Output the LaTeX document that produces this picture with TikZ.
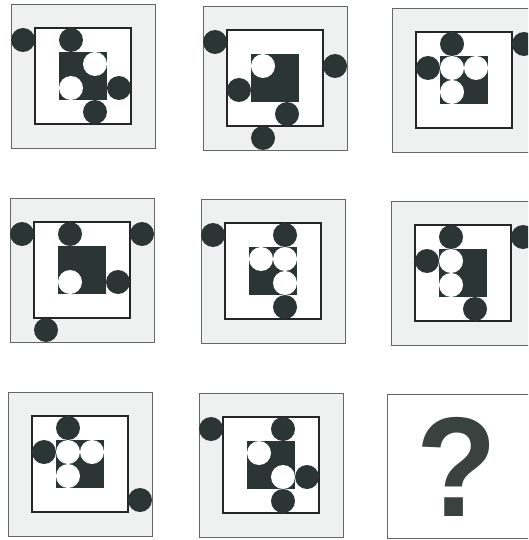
\documentclass[tikz,border=0pt]{standalone}
\usepackage{fontspec}
\newfontfamily\qfont{Liberation Sans}
\definecolor{dk}{HTML}{2B3634}
\definecolor{pale}{HTML}{EFF0F0}
\definecolor{qcol}{HTML}{3A4240}
\tikzset{
  outerbox/.style={fill=pale,draw=black!60,line width=0.7pt},
  innerbox/.style={fill=white,draw=black!85,line width=1.2pt},
  corebox/.style={fill=dk},
  dkdot/.style={fill=dk},
  wtdot/.style={fill=white},
}
\newcommand\puzzlecell[4]{%
  \begin{scope}[shift={(#1,#2)}]
    \path[outerbox] (0,0) rectangle (144,144);
    \path[innerbox] (24,24) rectangle (120,120);
    \path[corebox] (48,48) rectangle (96,96);
    \foreach \a/\b in {#3} \path[dkdot] (\a*24,\b*24) circle (12pt);
    \foreach \a/\b in {#4} \path[wtdot] (\a*24,\b*24) circle (12pt);
  \end{scope}}
\begin{document}
\begin{tikzpicture}[x=1pt,y=-1pt]
\useasboundingbox (0,0) rectangle (528,540);
\begin{scope}
\clip (0,0) rectangle (528,540);
\fill[white] (0,0) rectangle (528,540);
\puzzlecell{11}{4}{0.5/1.5,2.5/1.5,4.5/3.5,3.5/4.5}{3.5/2.5,2.5/3.5}
\puzzlecell{203}{6}{0.5/1.5,1.5/3.5,5.5/2.5,3.5/4.5,2.5/5.5}{2.5/2.5}
\puzzlecell{392}{8}{2.5/1.5,1.5/2.5,5.5/1.5}{2.5/2.5,3.5/2.5,2.5/3.5}
\puzzlecell{10}{198}{0.5/1.5,2.5/1.5,5.5/1.5,4.5/3.5,1.5/5.5}{2.5/3.5}
\puzzlecell{201}{199}{0.5/1.5,3.5/1.5,3.5/4.5}{2.5/2.5,3.5/2.5,3.5/3.5}
\puzzlecell{391}{201}{2.5/1.5,1.5/2.5,3.5/4.5,5.5/1.5}{2.5/2.5,2.5/3.5}
\puzzlecell{8}{392}{2.5/1.5,1.5/2.5,5.5/4.5}{2.5/2.5,3.5/2.5,2.5/3.5}
\puzzlecell{199}{393}{0.5/1.5,3.5/1.5,4.5/3.5,3.5/4.5}{2.5/2.5,3.5/3.5}
\draw[fill=white,draw=black!60,line width=0.7pt] (387,394) rectangle (531,538);
\end{scope}
\node[inner sep=0pt,text=qcol,xscale=0.93,font=\qfont\bfseries\fontsize{142}{142}\selectfont] (q) at (457,467) {?};
\end{tikzpicture}
\end{document}
